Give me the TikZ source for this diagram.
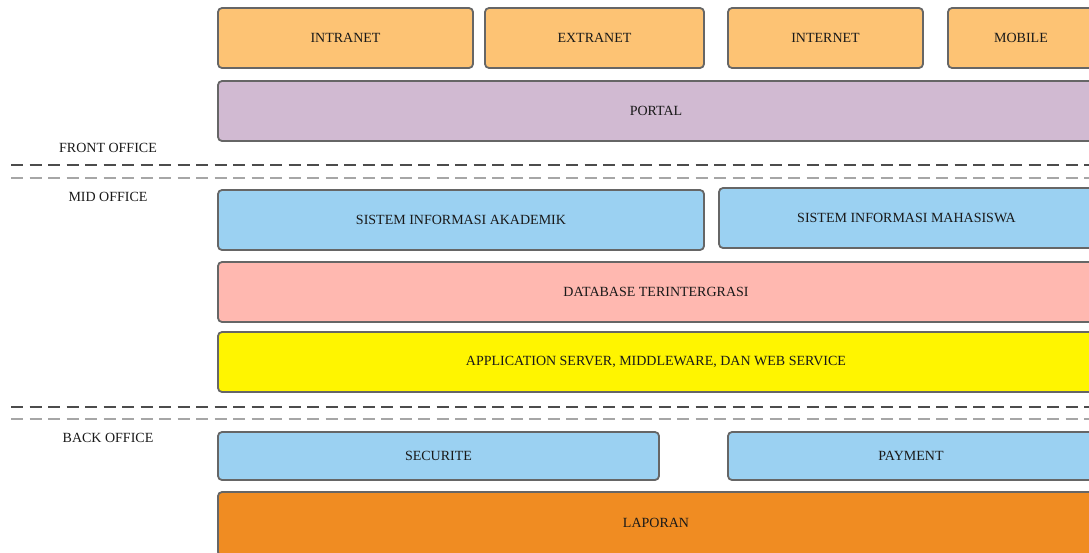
\documentclass[tikz,border=0pt]{standalone}
\usepackage{fontspec}
\setmainfont{Liberation Serif}
\definecolor{chanOrange}{HTML}{FDC374}
\definecolor{portalPurple}{HTML}{D1BAD2}
\definecolor{sysBlue}{HTML}{9BD1F2}
\definecolor{dbPink}{HTML}{FFB8B0}
\definecolor{mwYellow}{HTML}{FFF500}
\definecolor{repOrange}{HTML}{F08C22}
\definecolor{edgeGray}{HTML}{666666}
\begin{document}
\begin{tikzpicture}[x=1pt,y=-1pt,
  layer/.style={draw=edgeGray,line width=1.8pt,rounded corners=4pt},
  zonelabel/.style={font=\fontsize{14}{16}\selectfont,text=black!90},
  sepdark/.style={draw=black!70,line width=1.2pt,dash pattern=on 12pt off 6.5pt},
  seplight/.style={draw=black!35,line width=1.2pt,dash pattern=on 12pt off 6.5pt}]
\useasboundingbox (0,0) rectangle (1089,552);
\clip (0,0) rectangle (1089,552);
% channels
\draw[layer,fill=chanOrange] (218,8) rectangle (473,68);
\node[zonelabel] (intranet) at (345.5,38) {INTRANET};
\draw[layer,fill=chanOrange] (485,8) rectangle (704,68);
\node[zonelabel] (extranet) at (594.5,38) {EXTRANET};
\draw[layer,fill=chanOrange] (728,8) rectangle (923,68);
\node[zonelabel] (internet) at (825.5,38) {INTERNET};
\draw[layer,fill=chanOrange] (948,8) rectangle (1094,68);
\node[zonelabel] (mobile) at (1021,38) {MOBILE};
% portal
\draw[layer,fill=portalPurple] (218,81) rectangle (1094,141);
\node[zonelabel] (portal) at (656,111) {PORTAL};
% front office
\node[zonelabel] (front) at (108,148) {FRONT OFFICE};
\coordinate (s1a) at (11,165); \coordinate (s1b) at (1089,165);
\coordinate (s2a) at (11,178); \coordinate (s2b) at (1089,178);
\draw[sepdark] (s1a) -- (s1b);
\draw[seplight] (s2a) -- (s2b);
% mid office
\node[zonelabel] (mid) at (108,197) {MID OFFICE};
\draw[layer,fill=sysBlue] (218,190) rectangle (704,250);
\node[zonelabel] (sia) at (461,220) {SISTEM INFORMASI AKADEMIK};
\draw[layer,fill=sysBlue] (719,188) rectangle (1094,248);
\node[zonelabel] (sim) at (906.5,218) {SISTEM INFORMASI MAHASISWA};
\draw[layer,fill=dbPink] (218,262) rectangle (1094,322);
\node[zonelabel] (db) at (656,292) {DATABASE TERINTERGRASI};
\draw[layer,fill=mwYellow] (218,332) rectangle (1094,392);
\node[zonelabel] (mw) at (656,362) {APPLICATION SERVER, MIDDLEWARE, DAN WEB SERVICE};
\coordinate (s3a) at (11,407); \coordinate (s3b) at (1089,407);
\coordinate (s4a) at (11,419); \coordinate (s4b) at (1089,419);
\draw[sepdark] (s3a) -- (s3b);
\draw[seplight] (s4a) -- (s4b);
% back office
\node[zonelabel] (back) at (108,438) {BACK OFFICE};
\draw[layer,fill=sysBlue] (218,432) rectangle (659,480);
\node[zonelabel] (sec) at (438.5,456) {SECURITE};
\draw[layer,fill=sysBlue] (728,432) rectangle (1094,480);
\node[zonelabel] (pay) at (911,456) {PAYMENT};
\draw[layer,fill=repOrange] (218,492) rectangle (1094,556);
\node[zonelabel] (lap) at (656,523) {LAPORAN};
\end{tikzpicture}
\end{document}
